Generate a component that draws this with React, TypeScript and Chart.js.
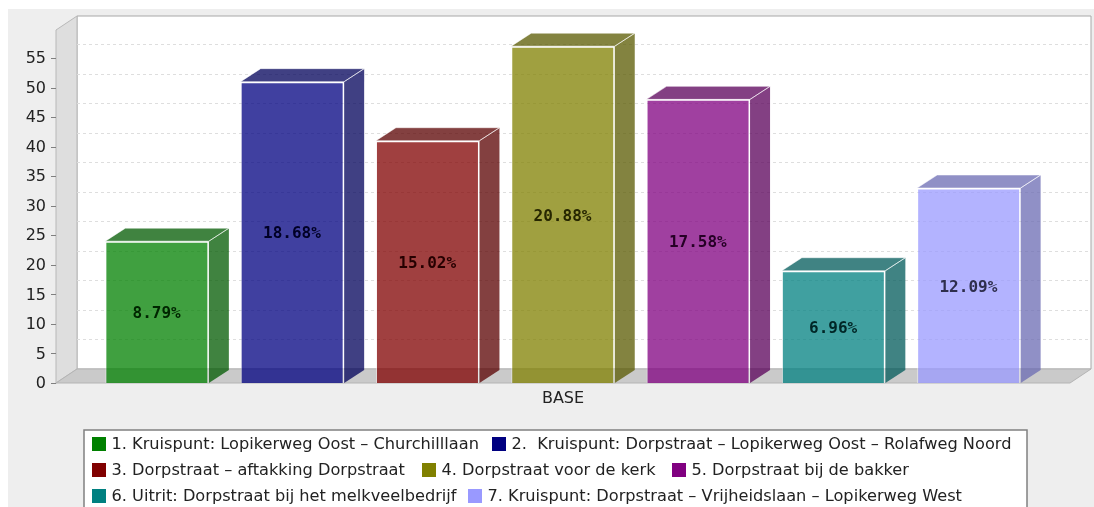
import React, { useEffect, useRef } from "react";
import { Chart, registerables } from "chart.js";

Chart.register(...registerables);

const categories = ["BASE"];
const seriesNames = [
  "1. Kruispunt: Lopikerweg Oost – Churchilllaan",
  "2.  Kruispunt: Dorpstraat – Lopikerweg Oost – Rolafweg Noord",
  "3. Dorpstraat – aftakking Dorpstraat",
  "4. Dorpstraat voor de kerk",
  "5. Dorpstraat bij de bakker",
  "6. Uitrit: Dorpstraat bij het melkveelbedrijf",
  "7. Kruispunt: Dorpstraat – Vrijheidslaan – Lopikerweg West",
];
const seriesValues = [24, 51, 41, 57, 48, 19, 33];
const percentLabels = ["8.79%", "18.68%", "15.02%", "20.88%", "17.58%", "6.96%", "12.09%"];
const seriesRgb = [
  [0, 128, 0],
  [0, 0, 128],
  [128, 0, 0],
  [128, 128, 0],
  [128, 0, 128],
  [0, 128, 128],
  [153, 153, 255],
];
const legendX = [92, 492, 92, 422, 672, 92, 468];
const legendY = [444, 444, 470, 470, 470, 496, 496];

const DX = 21;
const DY = 14;
const BAR_DX = 20;
const BAR_DY = 13;

const poly = (ctx: CanvasRenderingContext2D, pts: number[][], fill: string | null, stroke?: string) => {
  ctx.beginPath();
  pts.forEach((p, i) => (i ? ctx.lineTo(p[0], p[1]) : ctx.moveTo(p[0], p[1])));
  ctx.closePath();
  if (fill) {
    ctx.fillStyle = fill;
    ctx.fill();
  }
  if (stroke) {
    ctx.strokeStyle = stroke;
    ctx.lineWidth = 1;
    ctx.stroke();
  }
};

const scene3d = {
  id: "scene3d",
  beforeDraw(chart: any) {
    const { ctx, chartArea: a, scales } = chart;
    const y = scales.y;
    ctx.save();
    // page panel
    ctx.fillStyle = "#eeeeee";
    ctx.fillRect(8, 9, chart.width - 8, chart.height - 9);
    // back wall
    poly(ctx, [[a.left + DX, a.top - DY], [a.right + DX, a.top - DY], [a.right + DX, a.bottom - DY], [a.left + DX, a.bottom - DY]], "#ffffff", "#a8a8a8");
    // left wall
    poly(ctx, [[a.left, a.top], [a.left + DX, a.top - DY], [a.left + DX, a.bottom - DY], [a.left, a.bottom]], "#dedede", "#b8b8b8");
    // floor
    poly(ctx, [[a.left, a.bottom], [a.left + DX, a.bottom - DY], [a.right + DX, a.bottom - DY], [a.right, a.bottom]], "#cacaca", "#b4b4b4");
    // grid lines on the back wall and tick marks on the front axis
    ctx.strokeStyle = "#dedede";
    ctx.lineWidth = 1;
    y.ticks.forEach((t: any) => {
      const p = Math.round(y.getPixelForValue(t.value));
      if (t.value !== 0) {
        ctx.setLineDash([3, 3]);
        ctx.beginPath();
        ctx.moveTo(a.left + DX, p - DY + 0.5);
        ctx.lineTo(a.right + DX, p - DY + 0.5);
        ctx.stroke();
      }
      ctx.setLineDash([]);
      ctx.strokeStyle = "#808080";
      ctx.beginPath();
      ctx.moveTo(a.left - 5, p + 0.5);
      ctx.lineTo(a.left, p + 0.5);
      ctx.stroke();
      ctx.strokeStyle = "#dedede";
    });
    ctx.restore();
  },
  beforeDatasetsDraw(chart: any) {
    const { ctx } = chart;
    ctx.save();
    // side and top faces of the bars
    chart.data.datasets.forEach((_: any, i: number) => {
      const b = chart.getDatasetMeta(i).data[0];
      const [r, g, bl] = seriesRgb[i];
      const L = b.x - b.width / 2;
      const R = b.x + b.width / 2;
      const dark = `rgba(${Math.round(r * 0.7)},${Math.round(g * 0.7)},${Math.round(bl * 0.7)},0.75)`;
      const edge = "rgba(255,255,255,0.5)";
      poly(ctx, [[R, b.y], [R + BAR_DX, b.y - BAR_DY], [R + BAR_DX, b.base - BAR_DY], [R, b.base]], dark);
      poly(ctx, [[L, b.y], [L + BAR_DX, b.y - BAR_DY], [R + BAR_DX, b.y - BAR_DY], [R, b.y]], dark, edge);
      ctx.strokeStyle = edge;
      ctx.beginPath();
      ctx.moveTo(R, b.y);
      ctx.lineTo(R + BAR_DX, b.y - BAR_DY);
      ctx.stroke();
    });
    ctx.restore();
  },
  afterDatasetsDraw(chart: any) {
    const { ctx } = chart;
    ctx.save();
    ctx.font = "bold 16px 'DejaVu Sans Mono'";
    ctx.textAlign = "center";
    ctx.textBaseline = "middle";
    chart.data.datasets.forEach((_: any, i: number) => {
      const b = chart.getDatasetMeta(i).data[0];
      const [r, g, bl] = seriesRgb[i];
      ctx.fillStyle = `rgb(${Math.round(r * 0.3)},${Math.round(g * 0.3)},${Math.round(bl * 0.3)})`;
      ctx.fillText(percentLabels[i], b.x - 0.5, (b.y + b.base) / 2 + 2);
    });
    // legend
    ctx.fillStyle = "#ffffff";
    ctx.fillRect(84, 430, 943, 90);
    ctx.strokeStyle = "#808080";
    ctx.lineWidth = 1.5;
    ctx.strokeRect(84, 430, 943, 90);
    ctx.font = "16.2px 'DejaVu Sans'";
    ctx.textAlign = "left";
    ctx.textBaseline = "middle";
    seriesNames.forEach((name, i) => {
      const [r, g, bl] = seriesRgb[i];
      ctx.fillStyle = `rgb(${r},${g},${bl})`;
      ctx.fillRect(legendX[i], legendY[i] - 7, 14, 14);
      ctx.fillStyle = "#222222";
      ctx.fillText(name, legendX[i] + 19.5, legendY[i] + 1);
    });
    ctx.restore();
  },
};

export default function App() {
  const ref = useRef<HTMLCanvasElement>(null);
  useEffect(() => {
    const chart = new Chart(ref.current as HTMLCanvasElement, {
      type: "bar",
      data: {
        labels: categories,
        datasets: seriesNames.map((label, i) => {
          const [r, g, b] = seriesRgb[i];
          return {
            label,
            data: [seriesValues[i]],
            backgroundColor: `rgba(${r},${g},${b},0.75)`,
            borderColor: "rgba(255,255,255,0.5)",
            borderWidth: { left: 1, right: 1.5, top: 1.5, bottom: 0 },
            categoryPercentage: 0.934,
            barPercentage: 0.765,
          };
        }),
      },
      options: {
        responsive: false,
        animation: false,
        layout: { padding: { left: 0, right: 24, top: 30, bottom: 0 } },
        plugins: { legend: { display: false }, tooltip: { enabled: false }, title: { display: false } },
        scales: {
          x: {
            grid: { display: false },
            border: { display: false },
            ticks: { color: "#222222", font: { family: "'DejaVu Sans'", size: 16 }, padding: -2 },
            afterFit: (s: any) => {
              s.height = 124;
            },
          },
          y: {
            min: 0,
            max: 59.74,
            grid: { display: false, drawTicks: false },
            border: { display: false },
            ticks: {
              stepSize: 5,
              includeBounds: false,
              color: "#222222",
              font: { family: "'DejaVu Sans'", size: 16 },
              padding: 10,
              labelOffset: 1,
            },
            afterFit: (s: any) => {
              s.width = 56;
            },
          },
        },
      },
      plugins: [scene3d],
    } as any);
    return () => chart.destroy();
  }, []);
  return (
    <div style={{ position: "absolute", left: 0, top: 0, width: 1094, height: 507, overflow: "hidden", background: "#fff" }}>
      <canvas ref={ref} width={1094} height={507} style={{ display: "block", filter: "blur(0.5px)" }} />
    </div>
  );
}
